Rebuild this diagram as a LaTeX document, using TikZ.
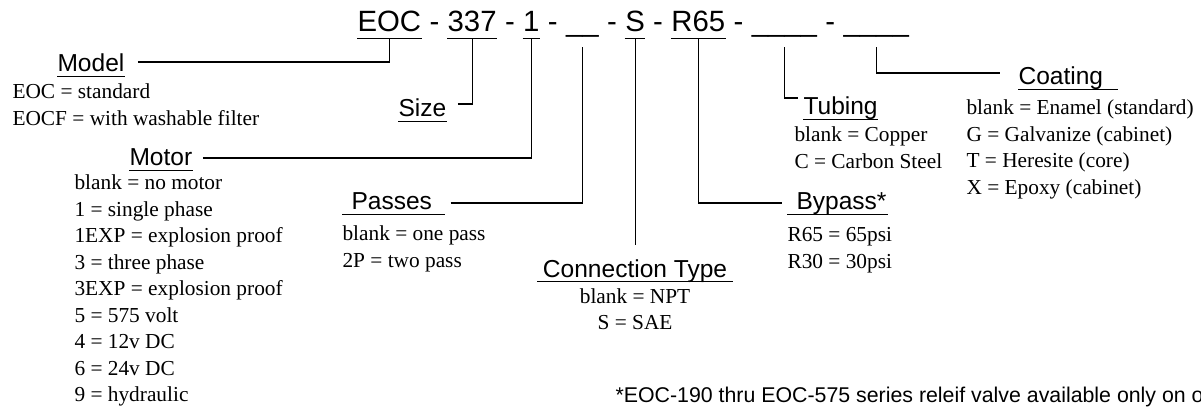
\documentclass[tikz,border=0pt]{standalone}
\usepackage{fontspec}
\setmainfont{Liberation Serif}
\newfontfamily\arialfont{Liberation Sans}
\usetikzlibrary{positioning}

% option lists, first line on the node's base line
\newcommand{\optl}[1]{\begin{tabular}[t]{@{}l@{}}#1\end{tabular}}
\newcommand{\optc}[1]{\begin{tabular}[t]{@{}c@{}}#1\end{tabular}}
\newcommand{\dsh}{\hspace{5.5pt}-\hspace{5.5pt}\null}

\begin{document}
\begin{tikzpicture}[x=0.75pt, y=-0.75pt, line width=0.8pt,
  fld/.style={font=\arialfont\fontsize{22}{26}\selectfont, inner sep=0pt, text depth=4.5pt},
  blk/.style={fld, text depth=11pt},
  hd/.style={font=\arialfont\fontsize{18.4}{22}\selectfont, inner sep=0pt, text depth=3pt, anchor=base west},
  body/.style={font=\fontsize{16}{19.875}\selectfont, inner sep=0pt, anchor=base west},
  note/.style={font=\arialfont\fontsize{16}{19}\selectfont, inner sep=0pt, anchor=base west}]

\useasboundingbox (0,0) rectangle (1201,409);

% Define part number fields
\node[fld, anchor=base west] (fm) at (357,32) {EOC};
\node[fld, base right=0pt of fm] (d1) {\dsh};
\node[fld, base right=0pt of d1] (fs) {337};
\node[fld, base right=0pt of fs] (d2) {\dsh};
\node[fld, base right=0pt of d2] (fmo) {1};
\node[fld, base right=0pt of fmo] (d3) {\dsh};
\node[blk, base right=0pt of d3] (fp) {\_\_};
\node[fld, base right=0pt of fp] (d4) {\dsh};
\node[fld, base right=0pt of d4] (fc) {S};
\node[fld, base right=0pt of fc] (d5) {\dsh};
\node[fld, base right=0pt of d5] (fb) {R65};
\node[fld, base right=0pt of fb] (d6) {\dsh};
\node[blk, base right=0pt of d6] (ft) {\_\_\_\_};
\node[fld, base right=0pt of ft] (d7) {\dsh};
\node[blk, base right=0pt of d7] (fco) {\_\_\_\_};

\foreach \f in {fm,fs,fmo,fc,fb}
  \draw (\f.south west) -- (\f.south east);

% Define headings
\node[hd] (hm) at (57,72) {Model};
\node[hd] (hs) at (398,117) {Size};
\node[hd] (hmo) at (129,166) {Motor};
\node[hd] (hp) at (351,210) {Passes};
\coordinate (cty) at (0,277);
\node[hd, anchor=base] (hc) at (fc.south |- cty) {Connection Type};
\node[hd] (hb) at (796,210) {Bypass*};
\node[hd] (ht) at (803,115) {Tubing};
\node[hd] (hco) at (1018,85) {Coating};

\foreach \h in {hm,hs,hmo,ht}
  \draw (\h.south west) -- (\h.south east);
\draw ([shift={(-9,0)}]hp.south west) -- ([shift={(12,0)}]hp.south east);
\draw ([shift={(-5,0)}]hc.south west) -- ([shift={(5,0)}]hc.south east);
\draw ([shift={(-9,0)}]hb.south west) -- ([shift={(1,0)}]hb.south east);
\draw (hco.south west) -- ([shift={(14,0)}]hco.south east);

% Draw leader lines
\draw ([shift={(13,-10)}]hm.base east) -| (fm.south);
\draw ([shift={(11,-13)}]hs.base east) -| (fs.south);
\draw ([shift={(10,-8)}]hmo.base east) -| (fmo.south);
\draw ([shift={(18,-7)}]hp.base east) -| (fp.south);
\draw (fc.south) -- ([shift={(0,-14)}]hc.north);
\draw (fb.south) |- ([shift={(-14,-7)}]hb.base west);
\draw (ft.south) |- ([shift={(-5,-17)}]ht.base west);
\draw (fco.south) |- ([shift={(-18,-12)}]hco.base west);

% Option lists
\node[body] (bm) at (12,99) {\optl{EOC = standard\\EOCF = with washable filter}};
\node[body] (bmo) at (74,190) {\optl{blank = no motor\\1 = single phase\\1EXP = explosion proof\\3 = three phase\\3EXP = explosion proof\\5 = 575 volt\\4 = 12v DC\\6 = 24v DC\\9 = hydraulic}};
\node[body] (bp) at (342,241) {\optl{blank = one pass\\2P = two pass}};
\coordinate (cby) at (0,303);
\node[body, anchor=base] (bc) at (hc.base |- cby) {\optc{blank = NPT\\S = SAE}};
\node[body] (bb) at (787,242) {\optl{R65 = 65psi\\R30 = 30psi}};
\node[body] (bt) at (794,142) {\optl{blank = Copper\\C = Carbon Steel}};
\node[body] (bco) at (966,115) {\optl{blank = Enamel (standard)\\G = Galvanize (cabinet)\\T = Heresite (core)\\X = Epoxy (cabinet)}};

\node[note] (fn) at (615,402) {*EOC-190 thru EOC-575 series releif valve available only on o};

\end{tikzpicture}
\end{document}
